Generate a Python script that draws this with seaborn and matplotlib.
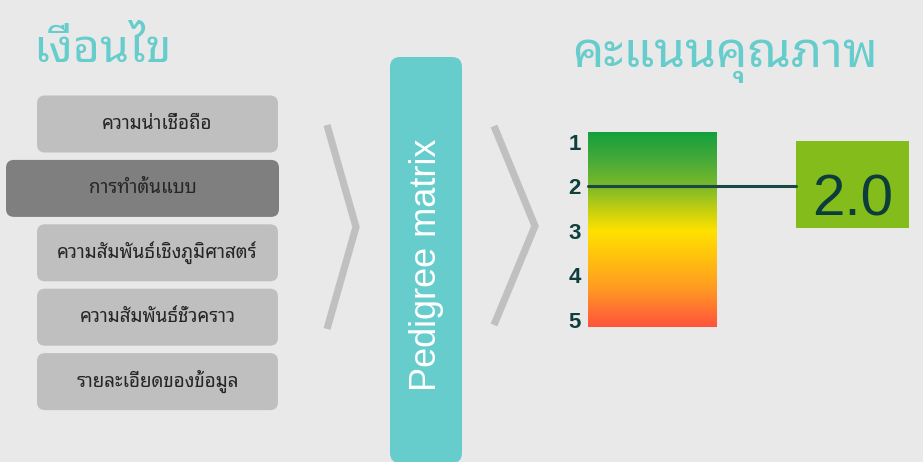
import numpy as np
import pandas as pd
import seaborn as sns
import matplotlib
matplotlib.use("Agg")
import matplotlib.pyplot as plt
from matplotlib import font_manager as fm
from matplotlib.ft2font import FT2Font
from matplotlib.patches import FancyBboxPatch, Rectangle
from matplotlib.colors import LinearSegmentedColormap
from matplotlib.transforms import blended_transform_factory

# ---------------- data ----------------
title_left = "เงื่อนไข"
title_right = "คะแนนคุณภาพ"
center_label = "Pedigree matrix"
criteria = ["ความน่าเชื่อถือ", "การทำต้นแบบ", "ความสัมพันธ์เชิงภูมิศาสตร์",
            "ความสัมพันธ์ชั่วคราว", "รายละเอียดของข้อมูล"]
selected_criterion = "การทำต้นแบบ"
score_levels = [1, 2, 3, 4, 5]
score_tick_labels = ["1", "2", "3", "4", "5"]
score = 2.0

# ---------------- fonts ----------------
def find_thai_family():
    preferred = ["Noto Sans Thai Looped", "Noto Looped Thai", "Noto Looped Thai UI",
                 "Loma", "Garuda", "Umpush", "Waree", "Tlwg Typo", "Kinnari",
                 "Norasi", "Tahoma", "Noto Sans Thai", "Noto Sans Thai UI", "Sarabun"]
    fams = {}
    for f in fm.fontManager.ttflist:
        try:
            cmap = FT2Font(f.fname).get_charmap()
        except Exception:
            continue
        if 0x0E01 in cmap and 0x0E49 in cmap:
            fams.setdefault(f.name, f.fname)
    for p in preferred:
        if p in fams:
            return p
    return sorted(fams)[0] if fams else None

thai_family = find_thai_family()
sns.set_theme(style="white")
fam_list = ([thai_family] if thai_family else []) + ["DejaVu Sans"]
plt.rcParams["font.family"] = fam_list
LATIN = ["Liberation Sans", "DejaVu Sans"]

BG = "#e9e9e9"
TEAL = "#66cdcc"
fig = plt.figure(figsize=(9.23, 4.62), dpi=100, facecolor=BG)
ax = fig.add_axes([0, 0, 1, 1])
ax.set_xlim(0, 923)
ax.set_ylim(462, 0)
ax.set_facecolor(BG)
ax.axis("off")

# titles
ax.text(33, 62, title_left, fontsize=33.5, color=TEAL, va="baseline", ha="left")
ax.text(572, 67, title_right, fontsize=35.7, color=TEAL, va="baseline", ha="left")

# criteria boxes
for i, c in enumerate(criteria):
    top = 95.5 + i * 64.4
    is_sel = c == selected_criterion
    x0 = 6 if is_sel else 37
    x1 = 279 if is_sel else 278
    col = "#7f7f7f" if is_sel else "#bfbfbf"
    ax.add_patch(FancyBboxPatch((x0, top), x1 - x0, 57,
                                boxstyle="round,pad=0,rounding_size=8",
                                fc=col, ec="none"))
    ax.text((x0 + x1) / 2, top + 28.5, c, fontsize=13.5, color="#262626",
            ha="center", va="center")

# chevrons
chev = "#c0c0c0"
ax.plot([327, 356, 327], [125, 227, 329], color=chev, lw=5.2,
        solid_joinstyle="miter", solid_capstyle="butt")
ax.plot([494, 535, 494], [126, 226, 325], color=chev, lw=5.2,
        solid_joinstyle="miter", solid_capstyle="butt")

# pedigree matrix box
ax.add_patch(FancyBboxPatch((390, 57), 72, 406,
                            boxstyle="round,pad=0,rounding_size=10",
                            fc=TEAL, ec="none"))
ax.text(426, 265, center_label, rotation=90, fontsize=26, color="white",
        ha="center", va="center", family=LATIN)

# gradient scale
W, H = 923, 462
gx0, gx1, gy0, gy1 = 588, 717, 132, 327
gax = fig.add_axes([gx0 / W, 1 - gy1 / H, (gx1 - gx0) / W, (gy1 - gy0) / H])
ymin, ymax = 0.775, 5.16
stops = [(0.775, "#15a03c"), (1.3, "#3ea83a"), (2.0, "#7cb92a"), (2.6, "#cdd30c"),
         (3.0, "#ffe100"), (3.6, "#ffc20e"), (4.3, "#ff9a22"), (5.16, "#ff533d")]
cmap = LinearSegmentedColormap.from_list(
    "q", [((v - ymin) / (ymax - ymin), c) for v, c in stops])
grad = np.linspace(ymin, ymax, 256).reshape(-1, 1)
gax.imshow(grad, cmap=cmap, aspect="auto", extent=[0, 1, ymax, ymin],
           vmin=ymin, vmax=ymax, interpolation="bilinear")
gax.set_xlim(0, 1)
gax.set_ylim(ymax, ymin)
gax.set_xticks([])
gax.set_yticks(score_levels)
gax.set_yticklabels(score_tick_labels, fontsize=16, fontweight="bold",
                    color="#0e3f3c", family=LATIN)
gax.tick_params(axis="y", length=0, pad=5)
sns.despine(ax=gax, left=True, bottom=True)

# score line and value box
trans = blended_transform_factory(gax.transAxes, gax.transData)
gax.plot([0, (796 - gx0) / (gx1 - gx0)], [score, score], color="#1b4845",
         lw=2.2, transform=trans, clip_on=False)
ax.add_patch(Rectangle((796, 141), 113, 87, fc="#84bc1c", ec="none"))
ax.text(852.5, 215, f"{score:.1f}", fontsize=42, color="#0b3d3b",
        ha="center", va="baseline", family=LATIN)

fig.savefig("out.png", dpi=100, facecolor=BG)
